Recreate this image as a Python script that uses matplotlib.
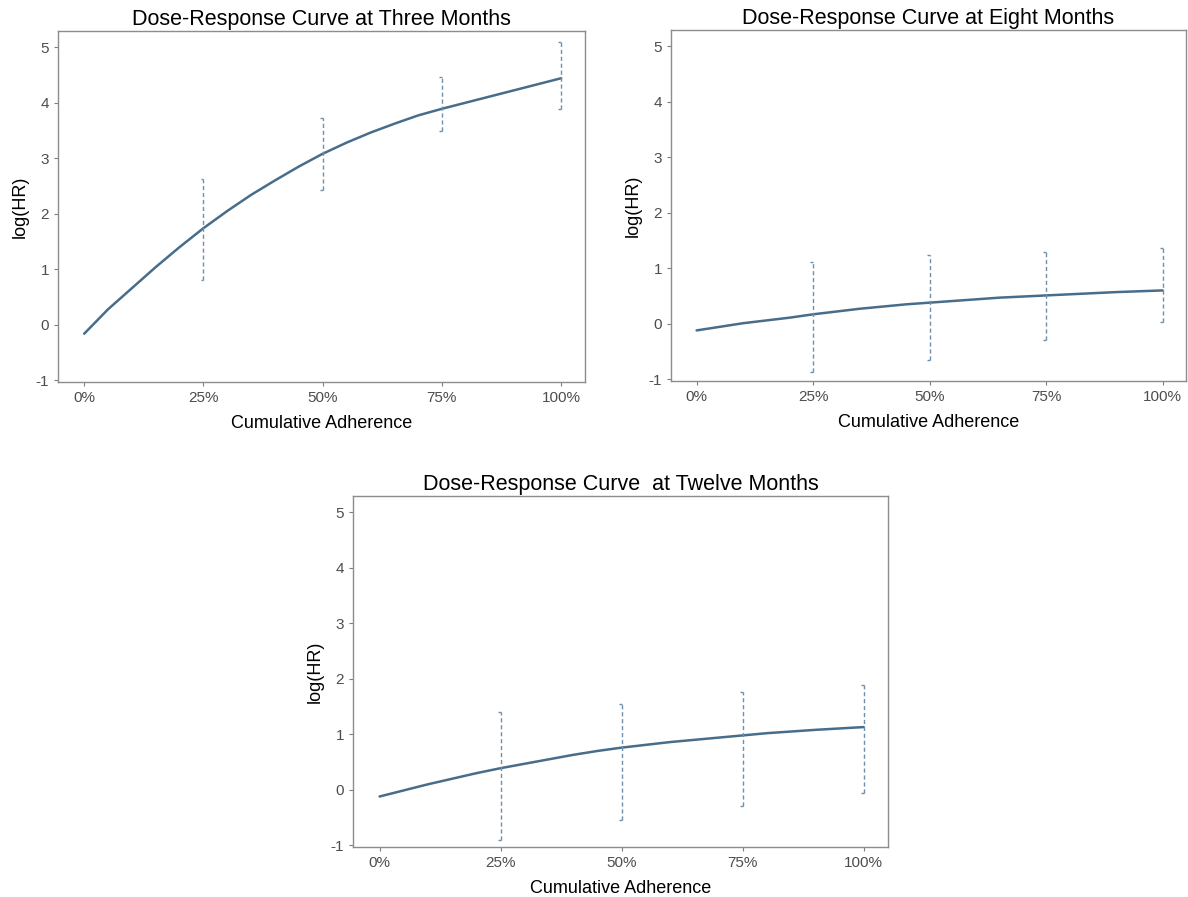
import matplotlib.pyplot as plt

plt.rcParams['font.family'] = ['Liberation Sans', 'DejaVu Sans']
plt.rcParams['axes.unicode_minus'] = False

# adherence grid for the fitted curves
adherence = [0, 0.05, 0.1, 0.15, 0.2, 0.25, 0.3, 0.35, 0.4, 0.45, 0.5, 0.55,
             0.6, 0.65, 0.7, 0.75, 0.8, 0.85, 0.9, 0.95, 1.0]

# fitted log(HR) curves
loghr_3m = [-0.16, 0.28, 0.66, 1.04, 1.40, 1.74, 2.05, 2.34, 2.60, 2.85, 3.08, 3.28,
            3.46, 3.62, 3.77, 3.89, 4.00, 4.11, 4.22, 4.33, 4.44]
loghr_8m = [-0.12, -0.055, 0.01, 0.06, 0.11, 0.17, 0.22, 0.27, 0.31, 0.35, 0.38, 0.41,
            0.44, 0.47, 0.49, 0.51, 0.53, 0.55, 0.57, 0.585, 0.60]
loghr_12m = [-0.12, -0.01, 0.10, 0.20, 0.30, 0.39, 0.47, 0.55, 0.63, 0.70, 0.76, 0.81,
             0.86, 0.90, 0.94, 0.98, 1.02, 1.05, 1.08, 1.105, 1.13]

# confidence intervals at 25/50/75/100%
ci_x = [0.25, 0.5, 0.75, 1.0]
ci_low_3m = [0.81, 2.42, 3.49, 3.88]
ci_high_3m = [2.63, 3.72, 4.46, 5.09]
ci_low_8m = [-0.86, -0.65, -0.29, 0.03]
ci_high_8m = [1.11, 1.23, 1.30, 1.37]
ci_low_12m = [-0.91, -0.55, -0.30, -0.05]
ci_high_12m = [1.40, 1.55, 1.76, 1.88]

x_ticks = [0, 0.25, 0.5, 0.75, 1.0]
x_labels = ['0%', '25%', '50%', '75%', '100%']
y_ticks = [-1, 0, 1, 2, 3, 4, 5]

titles = ['Dose-Response Curve at Three Months',
          'Dose-Response Curve at Eight Months',
          'Dose-Response Curve  at Twelve Months']

fig = plt.figure(figsize=(11.88, 8.97), dpi=100)
ax1 = fig.add_axes([0.0488, 0.5741, 0.4436, 0.3913])
ax2 = fig.add_axes([0.5648, 0.5753, 0.4335, 0.3913])
ax3 = fig.add_axes([0.2971, 0.0557, 0.4503, 0.3913])

panels = [
    (ax1, loghr_3m, ci_low_3m, ci_high_3m),
    (ax2, loghr_8m, ci_low_8m, ci_high_8m),
    (ax3, loghr_12m, ci_low_12m, ci_high_12m),
]

line_col = '#486d8b'
ci_col = '#6f8fab'

for i, (ax, curve, lo, hi) in enumerate(panels):
    ax.plot(adherence, curve, color=line_col, lw=1.8, solid_capstyle='round')
    ax.vlines(ci_x, lo, hi, colors=ci_col, linestyles=(0, (3, 2)), lw=1.0)
    cap_left = [x - 0.006 for x in ci_x]
    ax.hlines(lo, cap_left, ci_x, colors=ci_col, lw=1.0)
    ax.hlines(hi, cap_left, ci_x, colors=ci_col, lw=1.0)

    ax.set_xlim(-0.055, 1.05)
    ax.set_ylim(-1.03, 5.29)
    ax.set_xticks(x_ticks)
    ax.set_xticklabels(x_labels)
    ax.set_yticks(y_ticks)
    ax.tick_params(axis='both', colors='#7f7f7f', labelcolor='#4d4d4d',
                   labelsize=11, length=3, width=0.8)
    for s in ax.spines.values():
        s.set_color('#8c8c8c')
        s.set_linewidth(1.0)
    ax.set_xlabel('Cumulative Adherence', fontsize=13, labelpad=7)
    ax.set_ylabel('log(HR)', fontsize=13, labelpad=5)
    ax.set_title(titles[i], fontsize=15.5, pad=4)

fig.savefig('out.png', dpi=100)
